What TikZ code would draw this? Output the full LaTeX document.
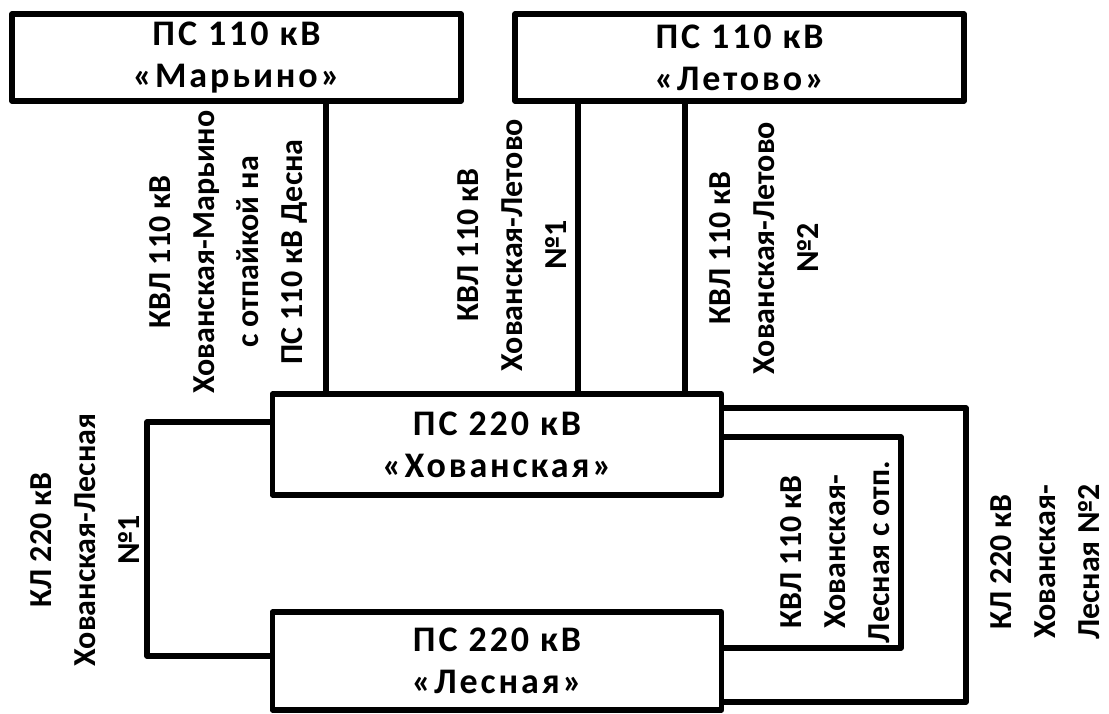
\documentclass[tikz,border=0pt]{standalone}
\usepackage{fontspec}
\setmainfont{Carlito}
\newfontfamily\boxfont{Carlito}[LetterSpace=8]
\usetikzlibrary{positioning}

\begin{document}
\begin{tikzpicture}[x=1pt, y=-1pt, line width=5.5pt, line join=round,
  sub/.style={rectangle, draw, align=center, inner sep=0pt, minimum width=449pt, font=\boxfont\bfseries\fontsize{36}{42}\selectfont},
  lbl/.style={rotate=90, align=center, inner sep=0pt, font=\bfseries\fontsize{32}{44}\selectfont}]
  \useasboundingbox (0,0) rectangle (1109,713);
  % substations
  \node[sub, minimum height=87pt] (mar) at (236.5,57.5) {ПС 110 кВ\\«Марьино»};
  \node[sub, minimum height=87pt] (let) at (739.5,57.5) {ПС 110 кВ\\«Летово»};
  \node[sub, minimum height=101pt] (hov) at (497,444.5) {ПС 220 кВ\\«Хованская»};
  \node[sub, minimum height=98pt] (les) at (497,661) {ПС 220 кВ\\«Лесная»};
  % lines to the top
  \coordinate (mx) at (326,0);
  \draw (mar.south -| mx) -- (hov.north -| mx);
  \foreach \x [count=\i] in {578,685} {
    \coordinate (lx\i) at (\x,0);
    \draw (let.south -| lx\i) -- (hov.north -| lx\i);
  }
  % lines between Hovanskaya and Lesnaya
  \coordinate (w1) at (147,422); \coordinate (w2) at (147,656);
  \draw (hov.west |- w1) -- (w1) -- (w2) -- (les.west |- w2);
  \coordinate (e1) at (901,437); \coordinate (e2) at (901,648);
  \draw (hov.east |- e1) -- (e1) -- (e2) -- (les.east |- e2);
  \coordinate (e3) at (966,408); \coordinate (e4) at (966,702);
  \draw (hov.east |- e3) -- (e3) -- (e4) -- (les.east |- e4);
  % line names
  \node[lbl] (tmar) at (228,252) {КВЛ 110 кВ\\Хованская-Марьино\\с отпайкой на\\ПС 110 кВ Десна};
  \node[lbl] (tlet1) at (512,245) {КВЛ 110 кВ\\Хованская-Летово\\№1};
  \node[lbl] (tlet2) at (764,248) {КВЛ 110 кВ\\Хованская-Летово\\№2};
  \node[lbl] (tles1) at (85,540) {КЛ 220 кВ\\Хованская-Лесная\\№1};
  \node[lbl] (tles3) at (835,552) {КВЛ 110 кВ\\Хованская-\\Лесная с отп.};
  \node[lbl] (tles2) at (1045,562) {КЛ 220 кВ\\Хованская-\\Лесная №2};
\end{tikzpicture}
\end{document}
